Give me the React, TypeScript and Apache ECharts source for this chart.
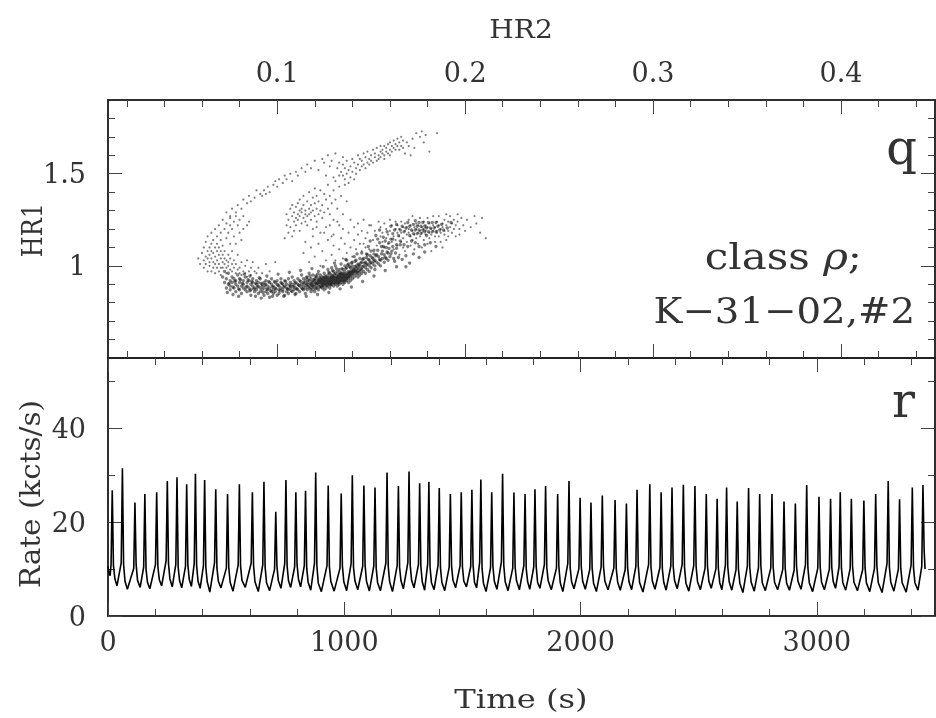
import React, { useEffect, useRef } from "react";
import * as echarts from "echarts";

// Rate curve: [time s, rate kcts/s], read cycle by cycle from the lower panel
const rateStart = [[0,10.6],[4,9.2],[9,8.6]];
const rateA = [[13,11],[18,26.8],[23,10.8],[29,8],[38,6.4],[56,11.4],[61,31.5],[66,11],[72,7.4],[82,5.7],[109,10.2],[114,24.2],[119,11],[125,7.6],[136,6.1],[151,10.4],[156,26],[161,10],[167,7.2],[177,5.8],[201,11],[206,26.4],[211,10.6],[217,7.8],[227,6.4],[246,11.8],[251,28.8],[256,11.2],[262,7.9],[272,6.2],[287,11],[292,29.6],[297,10.4],[303,7.5],[312,6],[328,10.6],[333,28.1],[338,10.9],[344,7.8],[353,6.3],[365,11.2],[370,30.3],[375,10.8],[381,7.4],[390,5.9],[404,10.8],[409,29],[414,10.4],[420,7.3],[431,5.1],[451,11.4],[456,27],[461,10.3],[467,7.4],[478,6],[501,10.2],[506,26],[511,10.4],[517,7.2],[529,5.3],[551,10.9],[556,28.1],[561,10.7],[567,7.6],[581,6.1],[606,11.3],[611,26.4],[616,10.8],[622,7.3],[636,5.2],[655,10.9],[660,28.6],[665,10.4],[671,7.1],[684,5.4],[705,10],[710,22.2],[715,10.6],[721,7.5],[732,5.9],[748,11.2],[753,29],[758,10.7],[764,7.5],[773,6.1],[790,10.5],[795,26.4],[800,11],[806,7.9],[815,6.2],[831,10.8],[836,26.7],[841,10.2],[847,7.2],[858,5.5],[874,11.3],[879,30.6],[884,10.7],[890,7]];
const rateB = [[903,5.2],[927,10.8],[932,27.8],[937,10.5],[943,7.4],[957,5.3],[982,10.2],[987,26.1],[992,10.7],[998,7.3],[1010,5.4],[1029,11.2],[1034,30],[1039,10.4],[1045,7.5],[1057,5.6],[1078,10.6],[1083,27.8],[1088,10.9],[1094,7.4],[1106,5.3],[1125,10.7],[1130,27.4],[1135,10.2],[1141,7.1],[1153,5.4],[1176,11.3],[1181,30.6],[1186,10.6],[1192,7.3],[1204,5.2],[1224,10.8],[1229,27.7],[1234,10.4],[1240,7.5],[1250,5.8],[1269,11.4],[1274,30.8],[1279,10.8],[1285,7.6],[1295,6],[1314,11],[1319,28.3],[1324,10.6],[1330,7.3],[1340,5.5],[1353,11.1],[1358,28.6],[1363,10.4],[1369,7.1],[1380,5.6],[1397,10.9],[1402,27.3],[1407,10.3],[1413,7.2],[1425,5.4],[1444,10.4],[1449,26],[1454,10.7],[1460,7.6],[1471,6],[1490,10.7],[1495,26.4],[1500,10.5],[1506,7.4],[1517,6.2],[1535,10.5],[1540,26.9],[1545,10.9],[1551,7.2],[1560,6],[1573,11.5],[1578,29.1],[1583,10.2],[1589,7],[1600,5.2],[1619,10.3],[1624,26.4],[1629,10.6],[1635,7.4],[1646,5.7],[1665,11.6],[1670,30.3],[1675,10.8],[1681,7.3],[1693,5.4],[1713,10.2],[1718,26.3],[1723,10.4],[1729,7.5],[1741,5.6],[1760,10.8],[1765,26],[1770,10.1],[1776,7.3]];
const rateC = [[1785,5.7],[1802,10.5],[1807,27],[1812,10.7],[1818,7.2],[1828,5.9],[1847,11],[1852,27.7],[1857,10.4],[1863,7.5],[1876,5.6],[1898,10.2],[1903,26],[1908,10.6],[1914,7.1],[1925,5.2],[1946,11.2],[1951,28.8],[1956,10.3],[1962,7.3],[1972,5.8],[1993,10.1],[1998,25.2],[2003,10.5],[2009,7.4],[2020,5.7],[2039,10],[2044,24.2],[2049,10.2],[2055,7],[2067,5.2],[2087,10.4],[2092,25.7],[2097,10.6],[2103,7.4],[2116,5.6],[2141,10.3],[2146,24.7],[2151,10.1],[2157,7.2],[2168,5.5],[2189,9.9],[2194,24],[2199,10.3],[2205,7.3],[2216,5.6],[2234,10.6],[2239,26.9],[2244,10.8],[2250,7.1],[2264,5.1],[2288,11],[2293,28.1],[2298,10.4],[2304,7.4],[2315,5.7],[2336,10.4],[2341,26.4],[2346,10.1],[2352,7.2],[2362,5.5],[2382,10.7],[2387,27.4],[2392,10.6],[2398,7.5],[2409,5.8],[2430,11],[2435,28],[2440,10.3],[2446,7],[2458,5.3],[2479,10.8],[2484,27.7],[2489,10.5],[2495,7.3],[2507,5.6],[2527,10.2],[2532,26],[2537,10.7],[2543,7.4],[2553,5.9],[2573,10.1],[2578,25],[2583,10.2],[2589,7.1],[2598,5.6],[2613,10.9],[2618,27.4],[2623,10.5],[2629,7.3],[2640,5.5],[2658,9.9],[2663,24.4],[2668,10.1],[2674,7]];
const rateD = [[2687,5],[2706,10.7],[2711,27.3],[2716,10.4],[2722,7.2],[2735,5.3],[2753,10.3],[2758,26],[2763,10.7],[2769,7.1],[2782,5.4],[2805,10.2],[2810,26],[2815,10.5],[2821,7.2],[2834,5.6],[2856,10],[2861,24.4],[2866,10.2],[2872,7],[2884,5.5],[2904,9.8],[2909,24],[2914,10.6],[2920,7.4],[2933,5.7],[2952,11],[2957,27.9],[2962,10.3],[2968,7.1],[2982,5.2],[3004,10.2],[3009,25.4],[3014,10.5],[3020,7.2],[3032,5.6],[3053,10],[3058,25],[3063,10.4],[3069,7.4],[3079,5.9],[3094,10.5],[3099,26.4],[3104,10.2],[3110,7.1],[3122,5.5],[3141,10.1],[3146,25],[3151,10.6],[3157,7.2],[3172,5.4],[3194,9.9],[3199,24.6],[3204,10.3],[3210,7],[3224,5.2],[3244,10.2],[3249,26],[3254,10.7],[3260,7.1],[3276,5],[3297,11.2],[3302,28.8],[3307,10.4],[3313,7.2],[3326,5.3],[3345,10],[3350,24.9],[3355,10.2],[3361,7.1],[3378,5.1],[3399,10.9],[3404,27.4],[3409,10.3],[3415,7.1],[3428,5.5],[3444,10.6],[3449,27.9],[3454,14],[3458,10]];

// Colour-colour points, as [HR2 x 1000, HR1 x 100], read region by region from the upper panel
const denseBand = [[71,94],[72,91],[72,97],[73,88],[73,93],[74,90],[74,96],[75,87],[75,92],[75,89],[76,94],[76,91],[77,88],[77,93],[78,90],[78,86],[78,92],[79,89],[79,95],[80,87],[80,91],[80,93],[81,89],[81,85],[82,92],[82,88],[82,90],[83,87],[83,94],[84,89],[84,91],[84,86],[85,88],[85,92],[86,90],[86,87],[86,84],[87,89],[87,93],[87,91],[88,88],[88,86],[89,90],[89,92],[89,87],[90,85],[90,89],[90,91],[91,88],[91,93],[91,86],[92,90],[92,87],[92,89],[93,84],[93,91],[93,88],[94,86],[94,90],[94,92],[95,87],[95,89],[95,85],[96,91],[96,88],[96,83],[97,86],[97,90],[97,93],[98,87],[98,89],[98,85],[99,91],[99,88],[99,86],[100,90],[100,84],[100,92],[101,87],[101,89],[101,85],[102,91],[102,88],[102,93],[103,86],[103,90],[103,87],[104,84],[104,89],[104,92],[105,88],[105,86],[105,90],[106,93],[106,87],[106,85],[107,89],[107,91],[107,88],[108,86],[108,94],[108,90],[109,87],[109,92],[109,89],[110,85],[110,91],[110,88],[111,93],[111,87],[111,90],[112,86],[112,92],[112,89],[113,88],[113,95],[113,90],[114,87],[114,93],[114,91],[114,89],[115,85],[115,92],[115,88],[116,94],[116,90],[116,87],[116,91],[117,89],[117,96],[117,92],[118,86],[118,90],[118,93],[118,88],[119,91],[119,95],[119,89],[119,87],[120,93],[120,90],[120,92],[120,86],[121,88],[121,94],[121,91],[121,89],[122,97],[122,92],[122,90],[122,87],[123,93],[123,89],[123,95],[123,91],[124,88],[124,92],[124,90],[124,94],[125,87],[125,96],[125,91],[125,93],[125,89],[126,92],[126,88],[126,94],[126,90],[127,98],[127,93],[127,91],[127,89],[127,95],[128,92],[128,90],[128,96],[128,88],[128,94],[129,91],[129,93],[129,99],[129,90],[129,95],[130,92],[130,89],[130,94],[130,97],[130,91],[131,93],[131,96],[131,90],[131,92],[131,100],[132,94],[132,91],[132,93],[132,97],[132,89],[133,95],[133,92],[133,90],[133,98],[133,94],[134,93],[134,96],[134,91],[134,101],[134,95],[135,92],[135,94],[135,98],[135,90],[135,96],[136,93],[136,95],[136,100],[136,97],[136,91],[137,94],[137,92],[137,96],[137,103],[137,99],[138,95],[138,93],[138,97],[138,91],[138,101],[139,94],[139,96],[139,99],[139,92],[140,97],[140,95],[140,93],[140,102],[140,100],[141,96],[141,94],[141,98],[141,105],[142,95],[142,100],[142,97],[142,103],[143,96],[143,94],[143,99],[143,101],[144,97],[144,95],[144,104],[144,100],[145,98],[145,96],[145,102],[145,107],[146,97],[146,100],[146,104],[147,99],[147,96],[147,102],[148,98],[148,101],[148,106],[149,100],[149,97],[149,103],[150,99],[150,102],[150,108],[151,101],[151,104],[152,100],[152,103],[152,98],[153,102],[153,106],[154,101],[154,105],[155,103],[155,100],[156,104],[156,108],[157,102],[157,106],[158,104],[158,110],[159,103],[159,107],[160,105],[161,108],[162,104],[163,107]];
const denseCore = [[74.5,90.5],[76.5,88.5],[77.5,91.5],[79.5,87.5],[80.5,92.5],[81.5,90.5],[83.5,88.5],[84.5,92.5],[85.5,86.5],[86.5,91.5],[87.5,87.5],[88.5,90.5],[89.5,88.5],[90.5,93.5],[91.5,90.5],[92.5,85.5],[93.5,89.5],[94.5,87.5],[95.5,91.5],[96.5,86.5],[97.5,88.5],[98.5,91.5],[99.5,87.5],[100.5,89.5],[101.5,86.5],[102.5,90.5],[103.5,88.5],[104.5,91.5],[105.5,87.5],[106.5,89.5],[107.5,86.5],[108.5,88.5],[109.5,90.5],[110.5,87.5],[111.5,89.5],[112.5,91.5],[113.5,87.5],[114.5,90.5],[115.5,89.5],[115.5,93.5],[116.5,88.5],[116.5,92.5],[117.5,90.5],[117.5,87.5],[117.5,94.5],[118.5,91.5],[118.5,89.5],[119.5,92.5],[119.5,88.5],[120.5,90.5],[120.5,94.5],[120.5,87.5],[121.5,92.5],[121.5,90.5],[121.5,95.5],[122.5,88.5],[122.5,91.5],[122.5,93.5],[123.5,90.5],[123.5,92.5],[123.5,88.5],[124.5,93.5],[124.5,91.5],[124.5,89.5],[125.5,94.5],[125.5,90.5],[125.5,92.5],[126.5,89.5],[126.5,93.5],[126.5,91.5],[127.5,92.5],[127.5,90.5],[127.5,96.5],[128.5,93.5],[128.5,91.5],[128.5,89.5],[129.5,92.5],[129.5,94.5],[129.5,97.5],[130.5,90.5],[130.5,93.5],[130.5,95.5],[131.5,91.5],[131.5,94.5],[131.5,98.5],[132.5,92.5],[132.5,95.5],[132.5,90.5],[133.5,93.5],[133.5,96.5],[133.5,91.5],[134.5,94.5],[134.5,92.5],[134.5,98.5],[135.5,95.5],[135.5,93.5],[135.5,91.5],[136.5,94.5],[136.5,98.5],[136.5,92.5],[137.5,95.5],[137.5,93.5],[137.5,100.5],[138.5,96.5],[138.5,94.5],[138.5,99.5],[139.5,97.5],[139.5,95.5],[139.5,101.5],[140.5,98.5],[140.5,96.5],[141.5,99.5],[141.5,97.5],[141.5,102.5],[142.5,98.5],[142.5,96.5],[143.5,100.5],[143.5,97.5],[144.5,101.5],[144.5,98.5],[145.5,103.5],[145.5,99.5],[146.5,101.5],[147.5,104.5],[147.5,100.5],[148.5,103.5],[149.5,105.5],[149.5,101.5],[150.5,104.5],[151.5,106.5],[151.5,102.5],[152.5,105.5],[153.5,108.5],[154.5,103.5],[155.5,106.5],[156.5,110.5],[157.5,104.5],[158.5,107.5],[159.5,112.5],[160.5,106.5],[161.5,110.5],[162.5,102.5],[163.5,109.5],[164.5,104.5],[165.5,111.5]];
const bandEdges = [[73.5,85.5],[76.5,84.5],[79.5,83.5],[82.5,95.5],[85.5,94.5],[88.5,83.5],[91.5,82.5],[94.5,94.5],[97.5,83.5],[100.5,95.5],[103.5,83.5],[106.5,96.5],[109.5,84.5],[112.5,97.5],[115.5,83.5],[118.5,98.5],[121.5,84.5],[124.5,99.5],[127.5,85.5],[130.5,101.5],[133.5,87.5],[136.5,103.5],[139.5,88.5],[142.5,106.5],[145.5,91.5],[148.5,110.5],[151.5,94.5],[154.5,112.5],[157.5,97.5],[160.5,114.5],[163.5,99.5],[166.5,103.5],[168.5,105.5],[170.5,101.5],[172.5,106.5],[175.5,104.5],[178.5,107.5],[168.5,99.5]];
const lowerArm = [[146,112],[148,118],[149,109],[150,122],[151,114],[152,119],[153,111],[154,124],[155,116],[155,121],[156,113],[156,118],[157,110],[157,123],[158,115],[158,120],[159,112],[159,117],[160,125],[160,119],[161,113],[161,122],[162,116],[162,109],[163,120],[163,124],[163,114],[164,118],[164,111],[164,122],[165,116],[165,106],[165,120],[166,113],[166,124],[166,118],[167,110],[167,121],[167,115],[168,119],[168,123],[168,108],[169,117],[169,113],[169,121],[170,125],[170,118],[170,120],[171,111],[171,116],[171,122],[172,119],[172,114],[172,127],[173,121],[173,117],[173,109],[174,120],[174,123],[174,115],[175,118],[175,112],[175,122],[176,126],[176,119],[176,116],[177,121],[177,110],[177,118],[178,120],[178,124],[178,114],[179,117],[179,122],[179,119],[180,112],[180,121],[180,126],[181,118],[181,115],[181,123],[182,120],[182,117],[182,108],[183,122],[183,119],[183,127],[184,116],[184,121],[184,113],[185,124],[185,119],[185,118],[186,122],[186,116],[186,127],[187,120],[187,113],[187,118],[188,123],[188,121],[188,110],[189,117],[189,125],[189,119],[190,122],[190,114],[190,128],[191,119],[191,124],[191,116],[192,121],[192,127],[193,118],[193,123],[194,125],[194,120],[195,116],[195,122],[196,128],[196,124],[197,120],[197,117],[198,126],[199,122],[200,119],[201,125],[203,121],[205,127],[206,123],[208,118],[209,126],[211,115]];
const lowerCore = [[152.5,116.5],[154.5,119.5],[156.5,115.5],[158.5,118.5],[160.5,121.5],[161.5,117.5],[162.5,119.5],[163.5,122.5],[164.5,116.5],[165.5,119.5],[166.5,121.5],[167.5,118.5],[168.5,120.5],[169.5,123.5],[170.5,116.5],[170.5,121.5],[171.5,119.5],[172.5,122.5],[172.5,117.5],[173.5,119.5],[173.5,124.5],[174.5,117.5],[174.5,121.5],[175.5,119.5],[175.5,123.5],[176.5,117.5],[176.5,121.5],[177.5,119.5],[177.5,123.5],[178.5,118.5],[178.5,121.5],[179.5,116.5],[179.5,120.5],[180.5,123.5],[180.5,118.5],[181.5,120.5],[182.5,118.5],[182.5,123.5],[183.5,120.5],[184.5,118.5],[184.5,123.5],[185.5,121.5],[186.5,119.5],[187.5,122.5],[188.5,119.5],[190.5,120.5],[192.5,123.5],[147.5,106.5],[149.5,113.5],[151.5,108.5],[153.5,114.5],[155.5,110.5],[157.5,113.5],[159.5,109.5],[161.5,114.5],[163.5,111.5],[165.5,113.5],[167.5,111.5],[169.5,110.5],[171.5,113.5],[173.5,112.5],[175.5,110.5],[178.5,111.5],[181.5,112.5],[184.5,110.5]];
const sparseMiddle = [[112,119],[114,107],[115,113],[117,102],[118,110],[119,116],[120,105],[121,121],[122,112],[123,100],[124,108],[125,118],[126,103],[127,114],[128,122],[129,106],[130,111],[130,117],[131,103],[132,124],[133,109],[134,115],[135,104],[135,120],[136,112],[137,107],[138,118],[139,125],[139,110],[140,105],[141,121],[141,114],[142,109],[143,117],[143,123],[144,112],[145,119],[145,108],[146,125],[147,115],[147,110],[149,122]];
const midCluster = [[104,115],[105,122],[105,128],[106,118],[106,125],[107,131],[107,121],[108,127],[108,133],[108,116],[109,124],[109,129],[109,119],[110,126],[110,132],[110,122],[111,128],[111,134],[111,125],[112,130],[112,127],[112,136],[113,123],[113,129],[113,131],[114,126],[114,138],[114,133],[115,128],[115,124],[115,130],[116,135],[116,127],[116,122],[117,131],[117,128],[117,140],[118,125],[118,133],[118,129],[119,137],[119,130],[119,120],[120,127],[120,134],[120,142],[121,131],[121,124],[121,138],[122,128],[122,135],[123,130],[123,141],[123,118],[124,133],[124,126],[125,139],[125,129],[126,136],[126,121],[127,131],[127,144],[128,128],[128,138],[129,134],[129,116],[130,141],[130,125],[131,136],[131,146],[132,131],[133,143],[133,122],[134,138],[135,149],[135,128],[136,144],[137,135]];
const upperArm = [[73,129],[75,127],[76,131],[78,129],[79,133],[81,131],[82,136],[84,134],[85,138],[86,135],[88,137],[89,141],[91,139],[92,138],[93,141],[94,139],[95,143],[96,140],[98,144],[99,146],[100,143],[101,147],[103,145],[104,149],[105,147],[107,150],[108,146],[110,151],[111,149],[113,153],[115,151],[116,155],[118,153],[120,157],[122,152],[124,158],[125,156],[126,149],[127,160],[128,154],[129,157],[130,148],[131,161],[132,153],[133,156],[133,149],[134,151],[135,155],[135,159],[136,147],[136,153],[137,150],[137,157],[138,152],[138,145],[139,154],[139,148],[140,151],[140,158],[141,156],[141,147],[142,153],[142,150],[143,160],[143,155],[144,152],[144,158],[145,157],[145,154],[146,161],[146,155],[147,159],[147,153],[148,156],[148,162],[149,158],[149,155],[150,160],[150,157],[151,163],[151,156],[152,159],[152,161],[153,157],[153,164],[154,160],[154,158],[155,162],[155,165],[155,159],[156,161],[156,163],[157,160],[157,165],[157,158],[158,162],[158,164],[159,166],[159,161],[160,163],[160,167],[160,160],[161,165],[161,162],[162,168],[162,164],[163,166],[163,163],[164,169],[164,165],[165,167],[165,163],[166,170],[166,165],[167,168],[167,164],[168,161],[169,167],[170,165],[171,160],[172,169],[173,164],[174,172],[176,170],[177,173],[178,167],[179,171],[181,162],[185,172]];
const leftFan = [[58,104],[59,101],[60,107],[61,103],[61,110],[61,99],[62,105],[62,113],[62,101],[63,108],[63,104],[63,97],[63,116],[64,102],[64,110],[64,106],[64,100],[65,112],[65,104],[65,108],[65,97],[65,118],[66,102],[66,107],[66,114],[66,99],[67,105],[67,110],[67,101],[67,120],[67,96],[68,108],[68,103],[68,116],[68,99],[68,112],[69,106],[69,122],[69,101],[69,97],[69,110],[70,104],[70,114],[70,99],[70,108],[70,118],[70,95],[71,102],[71,106],[71,125],[71,111],[71,99],[72,104],[72,120],[72,101],[72,108],[73,99],[73,115],[73,103],[73,123],[73,96],[74,106],[74,100],[74,118],[74,102],[75,98],[75,112],[75,126],[75,104],[75,122],[76,101],[76,97],[76,108],[76,120],[77,99],[77,116],[77,103],[77,124],[78,96],[78,101],[78,112],[78,127],[79,98],[79,106],[79,122],[80,99],[80,96],[80,118],[80,125],[81,102],[81,95],[81,114],[82,97],[82,120],[82,127],[83,100],[83,96],[84,94],[84,103],[84,122],[85,97],[85,124],[86,99],[86,95],[87,102],[88,97],[89,96],[90,99],[92,96],[94,101],[96,97],[99,102]];

// Axis scales and tick labels
const hr2Range = [0.01, 0.45];
const hr1Range = [0.5, 1.9];
const timeRange = [0, 3500];
const rateRange = [0, 55];
const hr2Major = [0.1, 0.2, 0.3, 0.4];
const hr2Minor = [0.02,0.04,0.06,0.08,0.12,0.14,0.16,0.18,0.22,0.24,0.26,0.28,0.32,0.34,0.36,0.38,0.42,0.44];
const hr1Major = [1, 1.5];
const hr1Minor = [0.6,0.7,0.8,0.9,1.1,1.2,1.3,1.4,1.6,1.7,1.8];
const timeMajor = [0, 1000, 2000, 3000];
const timeMinor = [200,400,600,800,1200,1400,1600,1800,2200,2400,2600,2800,3200,3400];
const rateMajor = [0, 20, 40];
const rateMinor = [10, 30, 50];

const FONT = "DejaVu Serif";
const INK = "#333333";
const LINE_STYLE = { color: "#222", width: 1.5 };

function axisPair(gridIndex: number, position: string, range: number[], major: number[], minor: number[], labelled: boolean, margin: number, extra: any = {}) {
  const base = {
    type: "value", gridIndex, position, min: range[0], max: range[1],
    splitLine: { show: false }, minorTick: { show: false }, minorSplitLine: { show: false },
    axisLine: { show: true, onZero: false, lineStyle: LINE_STYLE },
  };
  return [
    {
      ...base, ...extra,
      axisTick: { show: true, inside: true, length: 14, customValues: major, lineStyle: { color: "#444", width: 1 } },
      axisLabel: {
        show: labelled, margin, customValues: major, color: INK, fontFamily: FONT, fontSize: 27,
        hideOverlap: false, showMinLabel: true, showMaxLabel: true, formatter: (v: number) => String(v),
      },
    },
    {
      ...base,
      axisTick: { show: true, inside: true, length: 7, customValues: minor, lineStyle: { color: "#444", width: 1 } },
      axisLabel: { show: false },
    },
  ];
}

const toPoint = (p: number[]) => [p[0] / 1000, p[1] / 100];

export default function App() {
  const ref = useRef<HTMLDivElement>(null);
  useEffect(() => {
    document.body.style.margin = "0";
    const chart = echarts.init(ref.current!, null, { renderer: "svg" });
    const textStyle = (text: string, size: number, align: string) => ({ text, fontFamily: FONT, fontSize: size, fill: INK, align, verticalAlign: "middle" });
    chart.setOption({
      animation: false,
      backgroundColor: "#ffffff",
      grid: [
        { left: 108, top: 100, width: 827, height: 258 },
        { left: 108, top: 358, width: 827, height: 258 },
      ],
      xAxis: [
        ...axisPair(0, "top", hr2Range, hr2Major, hr2Minor, true, 14),
        ...axisPair(0, "bottom", hr2Range, hr2Major, hr2Minor, false, 0),
        ...axisPair(1, "bottom", timeRange, timeMajor, timeMinor, true, 12),
        ...axisPair(1, "top", timeRange, timeMajor, timeMinor, false, 0),
      ],
      yAxis: [
        ...axisPair(0, "left", hr1Range, hr1Major, hr1Minor, true, 22),
        ...axisPair(0, "right", hr1Range, hr1Major, hr1Minor, false, 0),
        ...axisPair(1, "left", rateRange, rateMajor, rateMinor, true, 22),
        ...axisPair(1, "right", rateRange, rateMajor, rateMinor, false, 0),
      ],
      series: [
        {
          type: "scatter", xAxisIndex: 0, yAxisIndex: 0, silent: true, symbol: "circle", symbolSize: 2.2,
          itemStyle: { color: "#000", opacity: 0.5 },
          data: [...sparseMiddle, ...midCluster, ...upperArm, ...leftFan, ...lowerArm].map(toPoint),
        },
        {
          type: "scatter", xAxisIndex: 0, yAxisIndex: 0, silent: true, symbol: "circle", symbolSize: 3.4,
          itemStyle: { color: "#000", opacity: 0.5 },
          data: [...denseBand, ...denseCore, ...lowerCore, ...bandEdges].map(toPoint),
        },
        {
          type: "line", xAxisIndex: 4, yAxisIndex: 4, silent: true, showSymbol: false, symbol: "none",
          lineStyle: { color: "#000", width: 1.6 },
          data: [...rateStart, ...rateA, ...rateB, ...rateC, ...rateD],
        },
      ],
      graphic: [
        { type: "text", x: 521, y: 29, scaleX: 1.08, style: textStyle("HR2", 26, "center") },
        { type: "text", x: 521, y: 699, scaleX: 1.24, style: textStyle("Time (s)", 26, "center") },
        { type: "text", x: 32, y: 230, rotation: Math.PI / 2, scaleY: 1.2, style: textStyle("HR1", 24, "center") },
        { type: "text", x: 31, y: 494, rotation: Math.PI / 2, scaleX: 1.09, style: textStyle("Rate (kcts/s)", 27, "center") },
        { type: "text", x: 917, y: 147, style: textStyle("q", 48, "right") },
        { type: "text", x: 915, y: 400, style: textStyle("r", 48, "right") },
        {
          type: "text", x: 862, y: 257, scaleX: 1.2,
          style: {
            text: "class {i|ρ};", fontFamily: FONT, fontSize: 35, fill: INK, align: "right", verticalAlign: "middle",
            rich: { i: { fontFamily: FONT, fontSize: 35, fontStyle: "italic", fill: INK } },
          },
        },
        { type: "text", x: 915, y: 310, scaleX: 1.075, style: textStyle("K−31−02,#2", 36, "right") },
      ],
    });
    return () => chart.dispose();
  }, []);
  return <div ref={ref} style={{ position: "absolute", left: 0, top: 0, width: 936, height: 718, filter: "blur(0.5px)" }} />;
}
